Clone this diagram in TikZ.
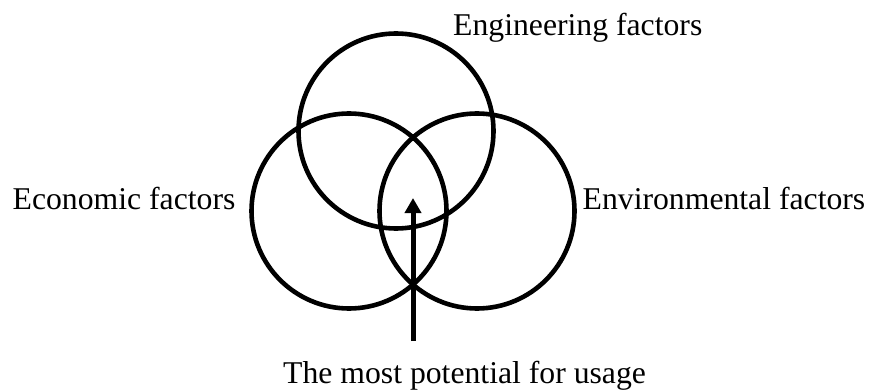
\documentclass[tikz,border=0pt]{standalone}
\usepackage{fontspec}
\setmainfont{Liberation Serif}
\usetikzlibrary{arrows.meta}
\begin{document}
\begin{tikzpicture}[x=1pt,y=-1pt,
  factor/.style={draw=black, line width=4.6pt, circle, minimum size=195pt, inner sep=0pt},
  caption/.style={anchor=base west, inner sep=0pt, font=\fontsize{31.7}{36}\selectfont},
  pointer/.style={draw=black, line width=5pt, -{Triangle[length=15pt,width=16pt]}}]
  \useasboundingbox (0,0) rectangle (869,390);
  % three overlapping factor circles
  \node[factor] (eng) at (396,131) {};
  \node[factor] (eco) at (349,211) {};
  \node[factor] (env) at (477,211) {};
  % labels
  \node[caption] (englabel) at (453,36) {Engineering factors};
  \node[caption] (ecolabel) at (12.5,209.5) {Economic factors};
  \node[caption] (envlabel) at (582.5,209.5) {Environmental factors};
  \node[caption] (uselabel) at (283,383.5) {The most potential for usage};
  % arrow into the common region
  \coordinate (tail) at (413,341);
  \coordinate (head) at (413,198);
  \draw[pointer] (tail) -- (head);
\end{tikzpicture}
\end{document}
